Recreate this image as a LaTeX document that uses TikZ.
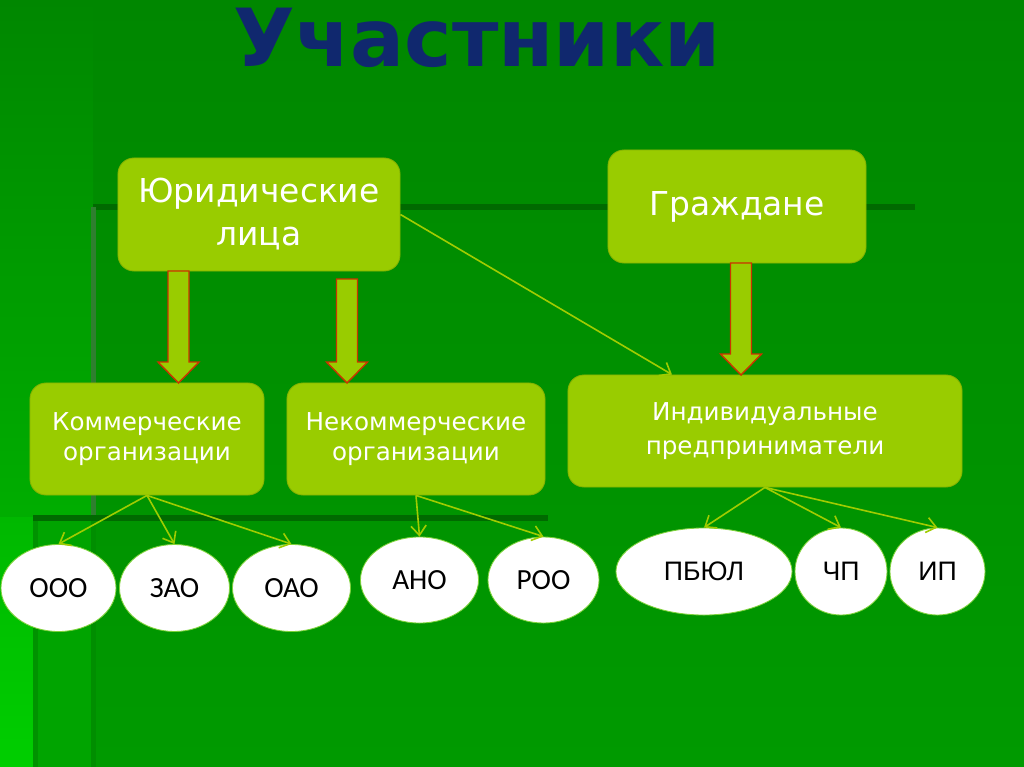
\documentclass[tikz,border=0pt]{standalone}
\usepackage{fontspec}
\usepackage{tikz}
\usetikzlibrary{shapes, arrows.meta}
\newfontfamily\boxfont{DejaVu Sans}
\newfontfamily\ovalfont{Carlito}
\newfontfamily\plainfont{Liberation Sans}
\definecolor{bgtop}{HTML}{008700}
\definecolor{bgbottom}{HTML}{009A00}
\definecolor{leftlight}{HTML}{00C000}
\definecolor{leftmid}{HTML}{00A400}
\definecolor{lefttop}{HTML}{00B800}
\definecolor{leftbottom}{HTML}{00CE00}
\definecolor{darkline}{HTML}{006A00}
\definecolor{greyline}{HTML}{2F7F2F}
\definecolor{lowline}{HTML}{008E00}
\definecolor{edgeline}{HTML}{009200}
\definecolor{boxfill}{HTML}{99CC00}
\definecolor{boxline}{HTML}{86B300}
\definecolor{linkgreen}{HTML}{A0CC00}
\definecolor{arrowred}{HTML}{CC3300}
\definecolor{ovalline}{HTML}{7ED23A}
\definecolor{titleblue}{HTML}{10286E}
\tikzstyle{base} = [draw=boxline, fill=boxfill, line width=0.6pt, rounded corners=0.4cm, text=white, align=center, inner sep=0pt]
\tikzstyle{big box} = [base, minimum height=2.825cm, font=\boxfont\fontsize{23.4}{30.5}\selectfont]
\tikzstyle{small box} = [base, minimum height=2.8cm, font=\boxfont\fontsize{17.5}{21.5}\selectfont]
\tikzstyle{oval} = [ellipse, draw=ovalline, fill=white, line width=0.6pt, inner sep=0pt, minimum height=2.175cm, text=black, font=\ovalfont\fontsize{20.8}{24}\selectfont]
\tikzstyle{connector} = [draw=linkgreen, line width=1.15pt, -{Straight Barb[length=2.4mm, width=3.8mm]}]
\tikzstyle{block arrow} = [draw=arrowred, fill=boxfill, line width=1pt, line join=miter]
\tikzstyle{title} = [text=titleblue, font=\boxfont\bfseries\fontsize{57}{60}\selectfont]
% fat arrow: x, top, head start, tip
\newcommand{\blockarrow}[4]{%
  \path [block arrow] (#1-10.5,#2) -- (#1+10.5,#2) -- (#1+10.5,#3) -- (#1+20.5,#3) -- (#1,#4) -- (#1-20.5,#3) -- (#1-10.5,#3) -- cycle;}

\begin{document}
\begin{tikzpicture}[x=0.025cm, y=-0.025cm]

	\useasboundingbox (0,0) rectangle (1024,767);

	% background
	\shade [top color=bgtop, bottom color=bgbottom] (0,0) rectangle (1024,767);
	\shade [top color=bgtop, bottom color=leftlight] (0,0) rectangle (93,767);
	\fill [leftmid] (35,517) rectangle (93,767);
	\shade [top color=lefttop, bottom color=leftbottom] (0,517) rectangle (35,767);
	\fill [darkline] (93,204) rectangle (915,210);
	\fill [greyline] (91,207) rectangle (96,517);
	\fill [lowline] (91,517) rectangle (96,767);
	\fill [darkline] (33,515) rectangle (548,521);
	\fill [edgeline] (33,521) rectangle (38,767);

	\node [title] at (477,38) (title) {Участники};

	% boxes
	\node [big box, minimum width=7.05cm] at (259,214.5) (jur) {Юридические\\лица};
	\node [big box, minimum width=6.45cm] at (737,206.5) (cit) {Граждане};
	\node [small box, minimum width=5.85cm] at (147,439) (kom) {Коммерческие\\организации};
	\node [small box, minimum width=6.45cm] at (416,439) (nekom) {Некоммерческие\\организации};
	\node [small box, minimum width=9.85cm, font=\boxfont\fontsize{17.5}{24.5}\selectfont] at (765,431) (ip) {Индивидуальные\\предприниматели};

	\blockarrow{178.5}{271}{362}{383}
	\blockarrow{347}{279}{362}{383}
	\blockarrow{741}{263}{354}{375}

	% ovals
	\node [oval, minimum width=2.875cm] at (58.5,588) (ooo) {ООО};
	\node [oval, minimum width=2.75cm] at (174.5,588) (zao) {ЗАО};
	\node [oval, minimum width=2.95cm] at (291.5,588) (oao) {ОАО};
	\node [oval, minimum width=2.95cm, minimum height=2.15cm] at (419.5,580) (ano) {АНО};
	\node [oval, minimum width=2.775cm, minimum height=2.15cm] at (543.5,580) (roo) {РОО};
	\node [oval, minimum width=4.4cm, font=\plainfont\fontsize{19}{22}\selectfont] at (704,571.5) (pbul) {ПБЮЛ};
	\node [oval, minimum width=2.3cm, font=\plainfont\fontsize{19}{22}\selectfont] at (841,571.5) (chp) {ЧП};
	\node [oval, minimum width=2.375cm, font=\plainfont\fontsize{19}{22}\selectfont] at (937.5,571.5) (ipo) {ИП};

	\path [connector] (jur.east) -- ([xshift=-2.325cm]ip.north);
	\path [connector] (kom.south) -- (ooo.north);
	\path [connector] (kom.south) -- (zao.north);
	\path [connector] (kom.south) -- (oao.north);
	\path [connector] (nekom.south) -- (ano.north);
	\path [connector] (nekom.south) -- (roo.north);
	\path [connector] (ip.south) -- (pbul.north);
	\path [connector] (ip.south) -- (chp.north);
	\path [connector] (ip.south) -- (ipo.north);

\end{tikzpicture}
\end{document}
